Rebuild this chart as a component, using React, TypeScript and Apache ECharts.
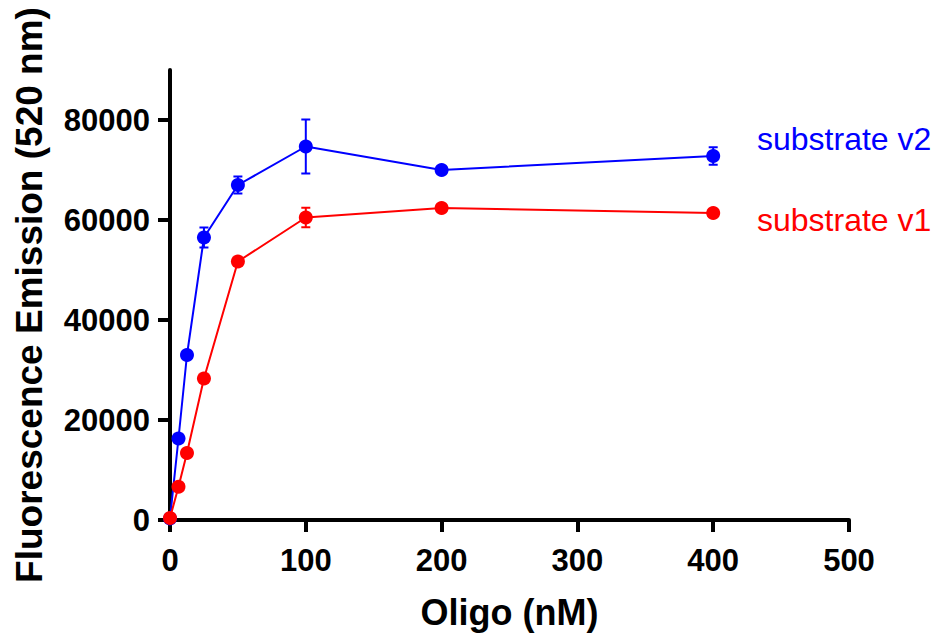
import React, { useEffect, useRef } from "react";
import * as echarts from "echarts";

const xValues = [0, 6.25, 12.5, 25, 50, 100, 200, 400];
const v2Values = [300, 16300, 33000, 56500, 67000, 74700, 70000, 72800];
const v2Errors = [0, 0, 0, 2000, 1700, 5400, 0, 1750];
const v1Values = [400, 6650, 13400, 28300, 51700, 60500, 62400, 61400];
const v1Errors = [0, 0, 0, 0, 0, 1950, 0, 0];
const yTicks = [0, 20000, 40000, 60000, 80000];
const xTicks = [0, 100, 200, 300, 400, 500];
const seriesNames = ["substrate v2", "substrate v1"];
const BLUE = "#0000ff";
const RED = "#ff0000";
const FONT = "Liberation Sans";

function errData(vals: number[], errs: number[]) {
  const out: number[][] = [];
  vals.forEach((v, i) => {
    if (errs[i] > 0) out.push([xValues[i], v - errs[i], v + errs[i]]);
  });
  return out;
}

function errSeries(vals: number[], errs: number[], color: string) {
  return {
    type: "custom",
    data: errData(vals, errs),
    z: 3,
    silent: true,
    renderItem: (params: any, api: any) => {
      const x = api.value(0);
      const top = api.coord([x, api.value(2)]);
      const bot = api.coord([x, api.value(1)]);
      const cw = 4.5;
      const st = { stroke: color, lineWidth: 2 };
      return {
        type: "group",
        children: [
          { type: "line", shape: { x1: top[0], y1: top[1], x2: bot[0], y2: bot[1] }, style: st },
          { type: "line", shape: { x1: top[0] - cw, y1: top[1], x2: top[0] + cw, y2: top[1] }, style: st },
          { type: "line", shape: { x1: bot[0] - cw, y1: bot[1], x2: bot[0] + cw, y2: bot[1] }, style: st },
        ],
      };
    },
  };
}

export default function App() {
  const ref = useRef<HTMLDivElement>(null);
  useEffect(() => {
    if (!ref.current) return;
    const chart = echarts.init(ref.current, null, { renderer: "svg" });
    const axisCommon = {
      axisLine: { show: true, onZero: false, lineStyle: { color: "#000", width: 4 } },
      axisTick: { show: true, inside: false, length: 12, lineStyle: { color: "#000", width: 4 } },
      splitLine: { show: false },
    };
    const tickFont = { color: "#000", fontFamily: FONT, fontWeight: "bold", fontSize: 31 };
    chart.setOption({
      animation: false,
      backgroundColor: "#fff",
      grid: { left: 170, right: 87, top: 70, bottom: 111, containLabel: false },
      xAxis: {
        type: "value",
        min: 0,
        max: 500,
        interval: 100,
        ...axisCommon,
        axisTick: { ...axisCommon.axisTick, customValues: xTicks },
        axisLabel: { margin: 25, customValues: xTicks, formatter: (v: number) => String(v), ...tickFont },
        name: "Oligo (nM)",
        nameLocation: "middle",
        nameGap: 74,
        nameTextStyle: { color: "#000", fontFamily: FONT, fontWeight: "bold", fontSize: 36 },
      },
      yAxis: {
        type: "value",
        min: 0,
        max: 90000,
        interval: 20000,
        ...axisCommon,
        axisTick: { ...axisCommon.axisTick, customValues: yTicks },
        axisLabel: {
          margin: 20,
          customValues: yTicks,
          formatter: (v: number) => String(v),
          ...tickFont,
        },
        name: "Fluorescence Emission (520 nm)",
        nameLocation: "middle",
        nameGap: 122,
        nameTextStyle: { color: "#000", fontFamily: FONT, fontWeight: "bold", fontSize: 37 },
      },
      series: [
        errSeries(v2Values, v2Errors, BLUE),
        {
          name: seriesNames[0],
          type: "line",
          data: xValues.map((x, i) => [x, v2Values[i]]),
          symbol: "circle",
          symbolSize: 14,
          lineStyle: { color: BLUE, width: 2 },
          itemStyle: { color: BLUE },
          z: 4,
        },
        errSeries(v1Values, v1Errors, RED),
        {
          name: seriesNames[1],
          type: "line",
          data: xValues.map((x, i) => [x, v1Values[i]]),
          symbol: "circle",
          symbolSize: 14,
          lineStyle: { color: RED, width: 2 },
          itemStyle: { color: RED },
          z: 5,
        },
      ],
      graphic: [
        {
          type: "text",
          x: 757,
          y: 139,
          style: { text: seriesNames[0], fill: BLUE, font: `32px '${FONT}'`, verticalAlign: "middle" },
        },
        {
          type: "text",
          x: 757,
          y: 220,
          style: { text: seriesNames[1], fill: RED, font: `32px '${FONT}'`, verticalAlign: "middle" },
        },
      ],
    });
    return () => chart.dispose();
  }, []);
  return (
    <div
      ref={ref}
      style={{ position: "absolute", left: 0, top: 0, width: 936, height: 635, background: "#fff" }}
    />
  );
}
